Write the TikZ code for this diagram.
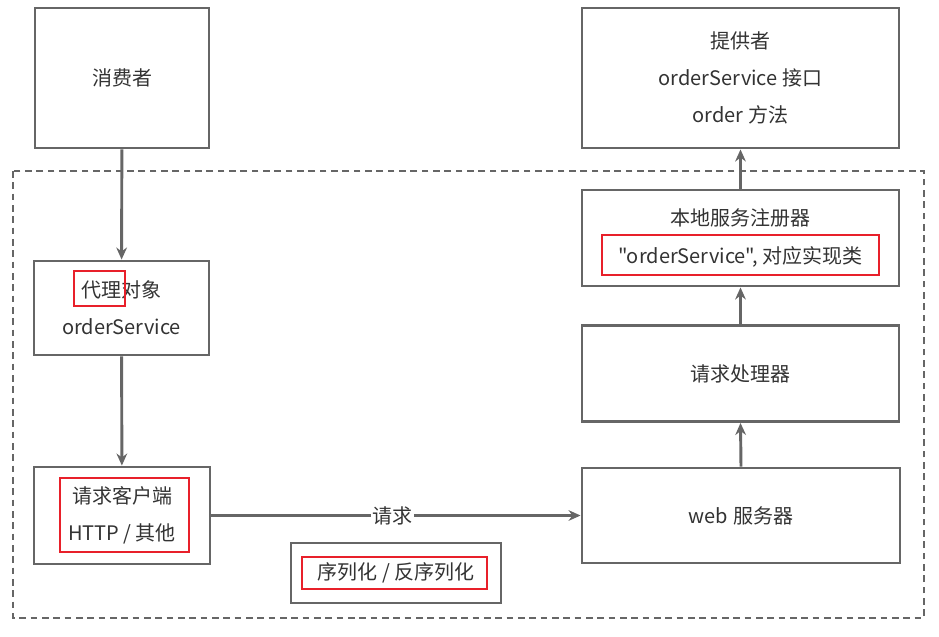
\documentclass[tikz,border=0pt]{standalone}
\usepackage{fontspec}
\setmainfont{Noto Sans CJK SC}[Ligatures=TeXOff]
\usetikzlibrary{arrows.meta}
\definecolor{edge}{HTML}{666666}
\definecolor{ink}{HTML}{333333}
\definecolor{mark}{HTML}{E8202A}
\begin{document}
\begin{tikzpicture}[x=0.75pt,y=-0.75pt,
  box/.style={draw=edge,line width=2.2pt,fill=white,align=center,text=ink,
    font=\fontsize{15pt}{28pt}\selectfont,inner sep=0pt},
  flow/.style={draw=edge,line width=2.2pt,-{Stealth[length=9pt,width=8pt]}},
  hilite/.style={draw=mark,line width=2.1pt},
  frame/.style={draw=edge,line width=1.6pt,dash pattern=on 5pt off 3.5pt}]
\useasboundingbox (0,0) rectangle (939,636);
\fill[white] (0,0) rectangle (939,636);

% dashed boundary of the RPC framework
\draw[frame] (13,171) rectangle (924,618);

% client side
\node[box,minimum width=130.5pt,minimum height=105pt] (consumer) at (122,78) {消费者};
\node[box,minimum width=131.25pt,minimum height=70.5pt] (proxy) at (121.5,308) {代理对象\\orderService};
\node[box,minimum width=132pt,minimum height=72.75pt] (client) at (122,515.5) {请求客户端\\HTTP / 其他};
\node[box,minimum width=157.5pt,minimum height=45pt] (serial) at (396,573) {序列化 / 反序列化};

% provider side
\node[box,minimum width=237.75pt,minimum height=105pt] (provider) at (740.5,78) {提供者\\orderService 接口\\order 方法};
\node[box,minimum width=237.75pt,minimum height=72pt] (registry) at (740.5,238) {本地服务注册器\\"orderService", 对应实现类};
\node[box,minimum width=237.75pt,minimum height=72pt] (handler) at (740.5,373.5) {请求处理器};
\node[box,minimum width=238.5pt,minimum height=71.25pt] (web) at (741,515.5) {web\hspace{0.3em}服务器};

% highlighted parts
\draw[hilite] (74,271) rectangle (125,306);
\draw[hilite] (60,478) rectangle (189,552);
\draw[hilite] (302,557) rectangle (487,589);
\draw[hilite] (602,235) rectangle (879,275);

% connectors
\draw[flow] (consumer) -- (proxy);
\draw[flow] (proxy) -- (client);
\draw[flow] (client) -- (web)
  node[pos=0.49,fill=white,inner sep=1pt,text=ink,font=\fontsize{15pt}{18pt}\selectfont] (req) {请求};
\draw[flow] (web.north) -- (handler.south);
\draw[flow] (handler.north) -- (registry.south);
\draw[flow] (registry.north) -- (provider.south);
\end{tikzpicture}
\end{document}
